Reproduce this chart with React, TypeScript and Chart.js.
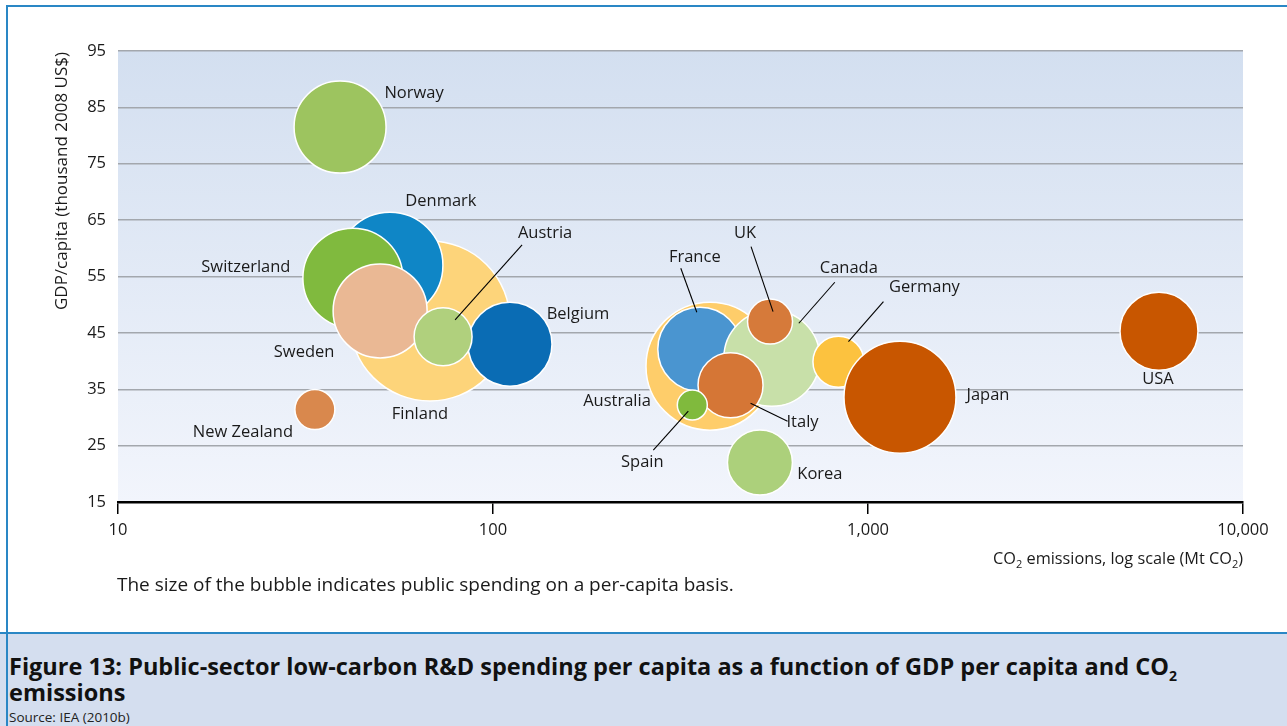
import React, { useEffect, useRef } from 'react';
import { Chart, registerables } from 'chart.js';

Chart.register(...registerables);

// ---- Data (draw order: back to front) ----
const countries = ['Finland', 'Denmark', 'Switzerland', 'Sweden', 'Belgium', 'Austria', 'Norway', 'New Zealand', 'Australia', 'France', 'Canada', 'UK', 'Italy', 'Spain', 'Germany', 'Japan', 'Korea', 'USA'];
const co2Emissions = [67.9, 53.1, 42.3, 50.0, 111, 73.6, 39.1, 33.5, 379, 356, 554, 548, 430, 340, 834, 1217, 515, 5970];
const gdpPerCapita = [47.1, 57.0, 54.7, 48.9, 43.0, 44.3, 81.5, 31.4, 39.1, 42.1, 40.5, 47.0, 35.7, 32.2, 39.9, 33.6, 22.0, 45.3];
const bubbleSize = [80, 53, 50, 47, 42, 29, 46, 20, 64, 42, 48, 22.5, 32.5, 15, 25.5, 56, 32.5, 39];
const bubbleColors = ['#fdd47a', '#0f86c6', '#80ba3e', '#eab894', '#0a6cb4', '#b0d07d', '#9dc45f', '#d9884d', '#fecd6a', '#4a95d0', '#c8e0a9', '#d67a3a', '#d57636', '#80ba3d', '#fcc23f', '#c85600', '#acd07b', '#c85600'];

const xTickValues = [10, 100, 1000, 10000];
const xTickLabels = ['10', '100', '1,000', '10,000'];
const yMin = 15;
const yMax = 95;
const yStep = 10;

const yTitle = 'GDP/capita (thousand 2008 US$)';
const captionNote = 'The size of the bubble indicates public spending on a per-capita basis.';

// label layout: offset of label centre from bubble centre (px), optional leader line offsets
const labelLayout: Record<string, { dx: number; dy: number; leader?: [number, number, number, number] }> = {
  'Norway': { dx: 74, dy: -34 },
  'Denmark': { dx: 51, dy: -64 },
  'Switzerland': { dx: -107, dy: -11 },
  'Sweden': { dx: -76, dy: 41 },
  'Finland': { dx: -10, dy: 93 },
  'Austria': { dx: 102, dy: -104, leader: [79, -92, 12, -17] },
  'Belgium': { dx: 68, dy: -30 },
  'New Zealand': { dx: -72, dy: 23 },
  'Australia': { dx: -93, dy: 35 },
  'France': { dx: -5, dy: -92, leader: [-19, -81, -3, -37] },
  'Canada': { dx: 77, dy: -90, leader: [63, -76, 27, -35] },
  'UK': { dx: -25, dy: -88, leader: [-19, -75, 3, -10] },
  'Germany': { dx: 86, dy: -74, leader: [45, -60, 10, -20] },
  'Japan': { dx: 88, dy: -2 },
  'Italy': { dx: 72, dy: 37, leader: [57, 36, 20, 18] },
  'Spain': { dx: -50, dy: 57, leader: [-39, 45, -4, 6] },
  'Korea': { dx: 60, dy: 12 },
  'USA': { dx: -1, dy: 48 },
};

const FONT = '"Open Sans", "Noto Sans", sans-serif';
const TEXT = '#1a1a1a';

const bgPlugin = {
  id: 'bgGradient',
  beforeDraw(chart: any) {
    const { ctx, chartArea } = chart;
    const { left, right, top, bottom } = chartArea;
    const g = ctx.createLinearGradient(0, top, 0, bottom);
    g.addColorStop(0, '#d3dff0');
    g.addColorStop(1, '#f2f5fc');
    ctx.save();
    ctx.fillStyle = g;
    ctx.fillRect(left, top, right - left, bottom - top);
    ctx.restore();
  },
};

const textPlugin = {
  id: 'labelsAndTitles',
  afterDatasetsDraw(chart: any) {
    const { ctx, chartArea } = chart;
    const xs = chart.scales.x;
    const ys = chart.scales.y;
    ctx.save();
    ctx.font = `16.5px ${FONT}`;
    ctx.fillStyle = TEXT;
    ctx.textAlign = 'center';
    ctx.textBaseline = 'middle';
    countries.forEach((name, i) => {
      const cx = xs.getPixelForValue(co2Emissions[i]);
      const cy = ys.getPixelForValue(gdpPerCapita[i]);
      const l = labelLayout[name];
      if (!l) return;
      if (l.leader) {
        ctx.beginPath();
        ctx.strokeStyle = '#000';
        ctx.lineWidth = 1.1;
        ctx.moveTo(cx + l.leader[0], cy + l.leader[1]);
        ctx.lineTo(cx + l.leader[2], cy + l.leader[3]);
        ctx.stroke();
      }
      ctx.fillText(name, cx + l.dx, cy + l.dy);
    });

    // y axis title
    ctx.save();
    ctx.translate(62, chartArea.top + 1);
    ctx.rotate(-Math.PI / 2);
    ctx.textAlign = 'right';
    ctx.textBaseline = 'middle';
    ctx.font = `17px ${FONT}`;
    ctx.fillText(yTitle, 0, 0);
    ctx.restore();

    // x axis title with subscripts
    const parts: [string, boolean][] = [['CO', false], ['2', true], [' emissions, log scale (Mt CO', false], ['2', true], [')', false]];
    const mainFont = `16.3px ${FONT}`;
    const subFont = `11px ${FONT}`;
    let total = 0;
    parts.forEach(([t, sub]) => {
      ctx.font = sub ? subFont : mainFont;
      total += ctx.measureText(t).width;
    });
    let x = chartArea.right - total;
    const yBase = chartArea.bottom + 62;
    ctx.textAlign = 'left';
    ctx.textBaseline = 'alphabetic';
    parts.forEach(([t, sub]) => {
      ctx.font = sub ? subFont : mainFont;
      ctx.fillText(t, x, sub ? yBase + 4 : yBase);
      x += ctx.measureText(t).width;
    });
    ctx.restore();
  },
};

export default function App() {
  const canvasRef = useRef<HTMLCanvasElement>(null);

  useEffect(() => {
    if (!canvasRef.current) return;
    const chart = new Chart(canvasRef.current, {
      type: 'bubble',
      data: {
        datasets: [
          {
            data: countries.map((_, i) => ({ x: co2Emissions[i], y: gdpPerCapita[i], r: bubbleSize[i] })),
            backgroundColor: bubbleColors,
            borderColor: '#ffffff',
            borderWidth: 1.5,
            clip: false as any,
          },
        ],
      },
      options: {
        animation: false,
        responsive: true,
        maintainAspectRatio: false,
        events: [],
        layout: { autoPadding: false, padding: { left: 0, right: 44, top: 51, bottom: 0 } },
        plugins: { legend: { display: false }, tooltip: { enabled: false } },
        scales: {
          x: {
            type: 'logarithmic',
            min: 10,
            max: 10000,
            afterBuildTicks: (scale: any) => {
              scale.ticks = xTickValues.map((v) => ({ value: v }));
            },
            afterFit: (scale: any) => {
              scale.height = 130;
              scale.paddingLeft = 0;
              scale.paddingRight = 0;
              scale.paddingTop = 0;
              scale.paddingBottom = 0;
            },
            ticks: {
              autoSkip: false,
              maxRotation: 0,
              padding: 6,
              color: TEXT,
              font: { family: FONT, size: 16.5 },
              callback: (v: any) => {
                const idx = xTickValues.indexOf(Number(v));
                return idx >= 0 ? xTickLabels[idx] : '';
              },
            },
            grid: {
              drawOnChartArea: false,
              drawTicks: true,
              tickLength: 12,
              color: '#000',
              lineWidth: 1.5,
            },
            border: { display: true, color: '#000', width: 2.5 },
          },
          y: {
            min: yMin,
            max: yMax,
            afterFit: (scale: any) => {
              scale.width = 118;
              scale.paddingLeft = 0;
              scale.paddingRight = 0;
              scale.paddingTop = 0;
              scale.paddingBottom = 0;
            },
            ticks: {
              stepSize: yStep,
              padding: 12,
              color: TEXT,
              font: { family: FONT, size: 16.5 },
            },
            grid: {
              drawTicks: false,
              color: '#a3a7ad',
              lineWidth: 1.5,
            },
            border: { display: false },
          },
        },
      },
      plugins: [bgPlugin, textPlugin],
    });
    return () => chart.destroy();
  }, []);

  return (
    <div style={{ position: 'absolute', left: 0, top: 0, width: 1287, height: 726, background: '#fff', overflow: 'hidden', fontFamily: FONT }}>
      <div style={{ position: 'absolute', left: 0, top: 0, width: 1287, height: 632 }}>
        <canvas ref={canvasRef} />
      </div>
      <div style={{ position: 'absolute', left: 117, top: 571, fontSize: 19, color: TEXT, whiteSpace: 'nowrap' }}>{captionNote}</div>
      {/* caption band */}
      <div style={{ position: 'absolute', left: 0, top: 632, width: 1287, height: 94, background: '#d4deef', borderTop: '2px solid #2a87c5' }}>
        <div style={{ position: 'absolute', left: 9, top: 19, fontWeight: 700, fontSize: 23.5, lineHeight: '26px', color: '#111', width: 1270, whiteSpace: 'nowrap' }}>
          Figure 13: Public-sector low-carbon R&amp;D spending per capita as a function of GDP per capita and CO<sub style={{ fontSize: 14, verticalAlign: 'sub', lineHeight: 0 }}>2</sub>
          <br />emissions
        </div>
        <div style={{ position: 'absolute', left: 9, top: 74, fontSize: 13.5, color: '#222', whiteSpace: 'nowrap' }}>Source: IEA (2010b)</div>
      </div>
      {/* frame lines */}
      <div style={{ position: 'absolute', left: 6, top: 5, width: 1281, height: 2, background: '#2a87c5' }} />
      <div style={{ position: 'absolute', left: 6, top: 5, width: 2, height: 721, background: '#2a87c5' }} />
    </div>
  );
}
